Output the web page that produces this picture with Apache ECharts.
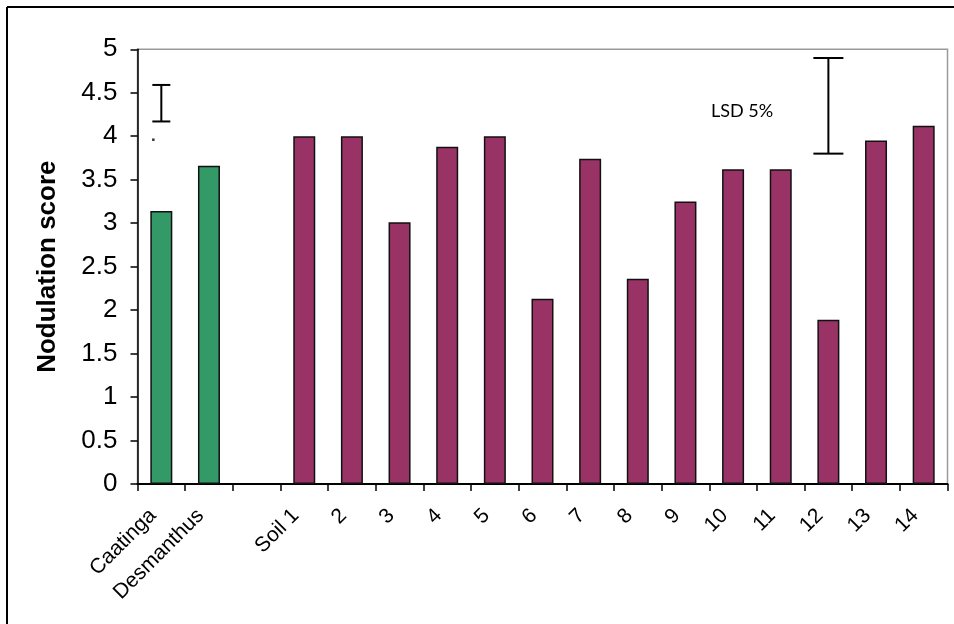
<!DOCTYPE html>
<html>
<head>
<meta charset="utf-8">
<title>Nodulation score</title>
<script src="https://cdn.jsdelivr.net/npm/echarts@6/dist/echarts.min.js"></script>
<style>
  html, body { margin: 0; padding: 0; background: #fff; }
  #chart { width: 954px; height: 624px; }
</style>
</head>
<body>
<div id="chart"></div>
<script>
// Category labels along the x axis (blank slot separates the two groups)
const categories = ['Caatinga', 'Desmanthus', '', 'Soil 1', '2', '3', '4', '5', '6', '7', '8', '9', '10', '11', '12', '13', '14'];

// Nodulation scores of the two reference plants
const referenceScores = [3.14, 3.66];

// Nodulation scores of the fourteen soils
const soilScores = [4.0, 4.0, 3.01, 3.88, 4.0, 2.13, 3.74, 2.36, 3.25, 3.62, 3.62, 1.89, 3.95, 4.12];

// Vertical bars: [category index, lower end, upper end]
const errorBars = [[0, 4.17, 4.59], [14, 3.80, 4.90]];

// Stray point near the left bar
const strayPoint = [[0, 3.96]];

// y-axis ticks
const yMin = 0, yMax = 5, yStep = 0.5;

const GREEN = '#339966';
const PURPLE = '#993366';
const CAP_HALF = [9, 15];

// Build one bar series; the gap category stays empty
const barData = categories.map(function (c, i) {
  if (i < referenceScores.length) {
    return { value: referenceScores[i], itemStyle: { color: GREEN } };
  }
  const s = i - referenceScores.length - 1;
  if (s >= 0 && s < soilScores.length) {
    return { value: soilScores[s], itemStyle: { color: PURPLE } };
  }
  return '-';
});

const chart = echarts.init(document.getElementById('chart'), null, { renderer: 'canvas' });

chart.setOption({
  animation: false,
  backgroundColor: '#fff',
  grid: {
    left: 137.5, right: 6.5, top: 49.3, bottom: 140,
    show: true, borderColor: '#9a9a9a', borderWidth: 1.5, backgroundColor: 'transparent'
  },
  xAxis: {
    type: 'category',
    data: categories,
    boundaryGap: true,
    axisLine: { show: true, lineStyle: { color: '#000', width: 2 } },
    axisTick: { show: true, inside: false, length: 7, lineStyle: { color: '#000', width: 1.5 }, interval: 0 },
    axisLabel: {
      interval: 0, rotate: 45, margin: 20,
      fontFamily: 'Liberation Sans, Arial, sans-serif', fontSize: 21, color: '#000',
      padding: [0, 12, 0, 0]
    },
    splitLine: { show: false }
  },
  yAxis: {
    type: 'value',
    min: yMin, max: yMax, interval: yStep,
    name: 'Nodulation score',
    nameLocation: 'middle',
    nameGap: 77,
    nameTextStyle: { fontFamily: 'Liberation Sans, Arial, sans-serif', fontSize: 26, fontWeight: 'bold', color: '#000' },
    axisLine: { show: true, lineStyle: { color: '#000', width: 1.5 } },
    axisTick: { show: true, inside: false, length: 7, lineStyle: { color: '#000', width: 1.5 } },
    axisLabel: {
      margin: 20,
      fontFamily: 'Liberation Sans, Arial, sans-serif', fontSize: 26, color: '#000',
      formatter: function (v) { return String(v); }
    },
    splitLine: { show: false }
  },
  series: [
    {
      type: 'bar',
      data: barData,
      barWidth: 22,
      itemStyle: { borderColor: '#111', borderWidth: 1.5 }
    },
    {
      type: 'custom',
      data: errorBars,
      z: 5,
      renderItem: function (params, api) {
        const x = api.value(0);
        const lo = api.coord([x, api.value(1)]);
        const hi = api.coord([x, api.value(2)]);
        const h = CAP_HALF[params.dataIndex] || 10;
        const style = { stroke: '#000', lineWidth: 2 };
        return {
          type: 'group',
          children: [
            { type: 'line', shape: { x1: lo[0], y1: lo[1], x2: hi[0], y2: hi[1] }, style: style },
            { type: 'line', shape: { x1: hi[0] - h, y1: hi[1], x2: hi[0] + h, y2: hi[1] }, style: style },
            { type: 'line', shape: { x1: lo[0] - h, y1: lo[1], x2: lo[0] + h, y2: lo[1] }, style: style }
          ]
        };
      }
    },
    {
      type: 'scatter',
      data: strayPoint,
      symbol: 'rect',
      symbolSize: 2.5,
      symbolOffset: [-8, 0],
      itemStyle: { color: '#000' },
      z: 5
    }
  ],
  graphic: [
    { type: 'line', shape: { x1: 7, y1: 7, x2: 954, y2: 7 }, style: { stroke: '#000', lineWidth: 2 } },
    { type: 'line', shape: { x1: 7, y1: 7, x2: 7, y2: 624 }, style: { stroke: '#000', lineWidth: 2 } },
    {
      type: 'text', left: 711, top: 102,
      style: { text: 'LSD 5%', fontFamily: 'Lato, Carlito, sans-serif', fontSize: 18, fill: '#000' }
    }
  ]
});
</script>
</body>
</html>
